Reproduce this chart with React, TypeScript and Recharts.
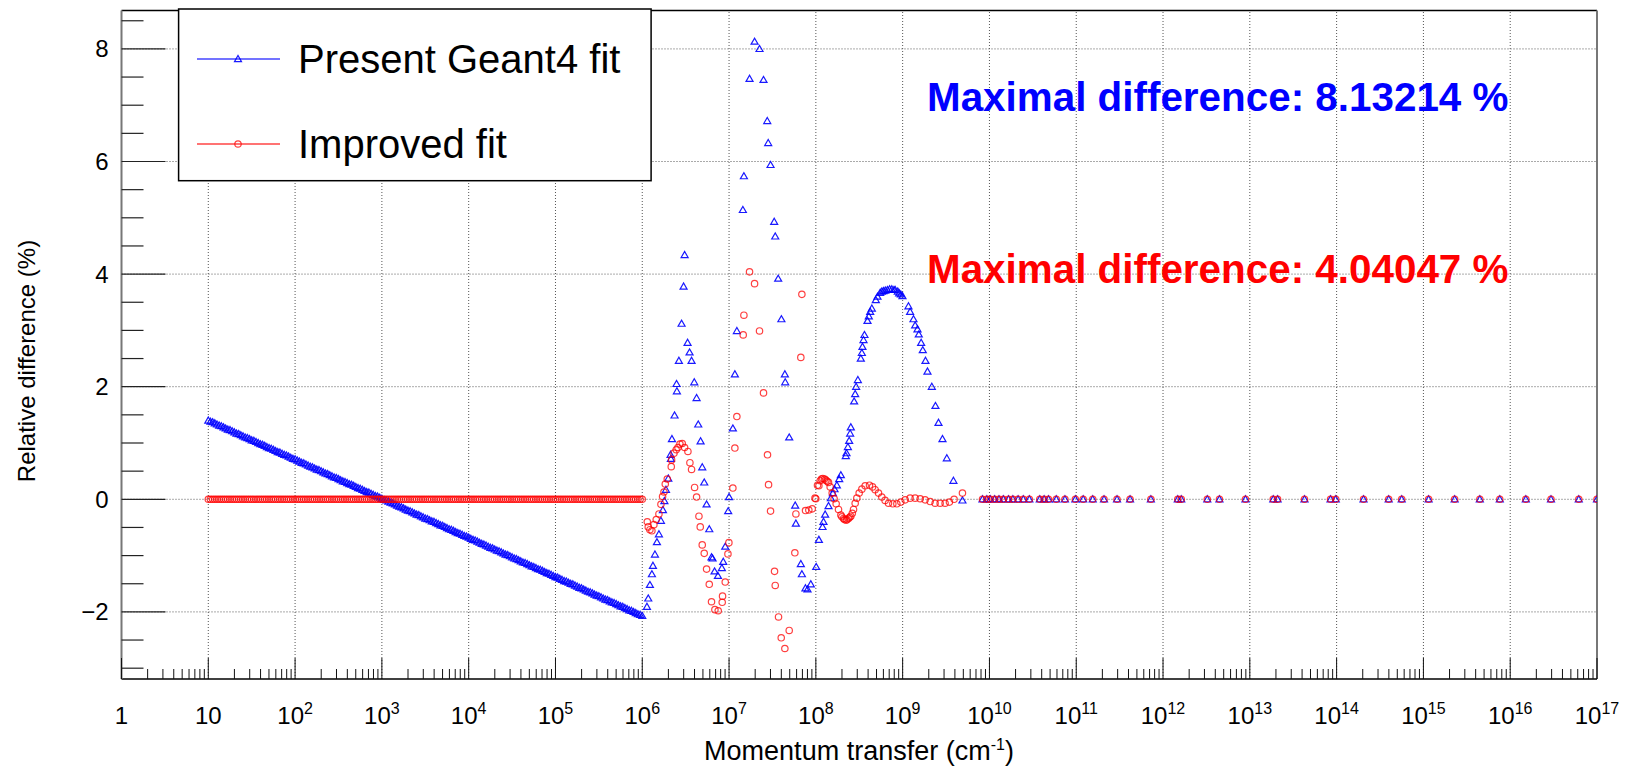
import React from "react";
import { ScatterChart, Scatter, XAxis, YAxis, ReferenceLine } from "recharts";

const W = 1628;
const H = 767;
const Y_MIN = -3.192;
const Y_MAX = 8.684;
const FONT = "'Liberation Sans', Arial, Helvetica, sans-serif";
const BLUE = "#0000ff";
const RED = "#ff0000";

// x values are log10 of the momentum transfer (cm^-1)
const lowQ = [
  1, 1.025, 1.05, 1.075, 1.1, 1.125, 1.15, 1.175,
  1.2, 1.225, 1.25, 1.275, 1.3, 1.325, 1.35, 1.375,
  1.4, 1.425, 1.45, 1.475, 1.5, 1.525, 1.55, 1.575,
  1.6, 1.625, 1.65, 1.675, 1.7, 1.725, 1.75, 1.775,
  1.8, 1.825, 1.85, 1.875, 1.9, 1.925, 1.95, 1.975,
  2, 2.025, 2.05, 2.075, 2.1, 2.125, 2.15, 2.175,
  2.2, 2.225, 2.25, 2.275, 2.3, 2.325, 2.35, 2.375,
  2.4, 2.425, 2.45, 2.475, 2.5, 2.525, 2.55, 2.575,
  2.6, 2.625, 2.65, 2.675, 2.7, 2.725, 2.75, 2.775,
  2.8, 2.825, 2.85, 2.875, 2.9, 2.925, 2.95, 2.975,
  3, 3.025, 3.05, 3.075, 3.1, 3.125, 3.15, 3.175,
  3.2, 3.225, 3.25, 3.275, 3.3, 3.325, 3.35, 3.375,
  3.4, 3.425, 3.45, 3.475, 3.5, 3.525, 3.55, 3.575,
  3.6, 3.625, 3.65, 3.675, 3.7, 3.725, 3.75, 3.775,
  3.8, 3.825, 3.85, 3.875, 3.9, 3.925, 3.95, 3.975,
  4, 4.025, 4.05, 4.075, 4.1, 4.125, 4.15, 4.175,
  4.2, 4.225, 4.25, 4.275, 4.3, 4.325, 4.35, 4.375,
  4.4, 4.425, 4.45, 4.475, 4.5, 4.525, 4.55, 4.575,
  4.6, 4.625, 4.65, 4.675, 4.7, 4.725, 4.75, 4.775,
  4.8, 4.825, 4.85, 4.875, 4.9, 4.925, 4.95, 4.975,
  5, 5.025, 5.05, 5.075, 5.1, 5.125, 5.15, 5.175,
  5.2, 5.225, 5.25, 5.275, 5.3, 5.325, 5.35, 5.375,
  5.4, 5.425, 5.45, 5.475, 5.5, 5.525, 5.55, 5.575,
  5.6, 5.625, 5.65, 5.675, 5.7, 5.725, 5.75, 5.775,
  5.8, 5.825, 5.85, 5.875, 5.9, 5.925, 5.95, 5.975,
  6,
];

const geantLow = [
  1.4, 1.38, 1.37, 1.35, 1.33, 1.31, 1.3, 1.28,
  1.26, 1.24, 1.23, 1.21, 1.19, 1.17, 1.16, 1.14,
  1.12, 1.1, 1.09, 1.07, 1.05, 1.04, 1.02, 1.0,
  0.98, 0.97, 0.95, 0.93, 0.91, 0.9, 0.88, 0.86,
  0.84, 0.83, 0.81, 0.79, 0.78, 0.76, 0.74, 0.72,
  0.71, 0.69, 0.67, 0.65, 0.64, 0.62, 0.6, 0.58,
  0.57, 0.55, 0.53, 0.52, 0.5, 0.48, 0.46, 0.45,
  0.43, 0.41, 0.39, 0.38, 0.36, 0.34, 0.32, 0.31,
  0.29, 0.27, 0.26, 0.24, 0.22, 0.2, 0.19, 0.17,
  0.15, 0.13, 0.12, 0.1, 0.08, 0.06, 0.05, 0.03,
  0.01, -0.01, -0.02, -0.04, -0.06, -0.07, -0.09, -0.11,
  -0.13, -0.14, -0.16, -0.18, -0.2, -0.21, -0.23, -0.25,
  -0.27, -0.28, -0.3, -0.32, -0.34, -0.35, -0.37, -0.39,
  -0.4, -0.42, -0.44, -0.46, -0.47, -0.49, -0.51, -0.53,
  -0.54, -0.56, -0.58, -0.6, -0.61, -0.63, -0.65, -0.66,
  -0.68, -0.7, -0.72, -0.73, -0.75, -0.77, -0.79, -0.8,
  -0.82, -0.84, -0.86, -0.87, -0.89, -0.91, -0.92, -0.94,
  -0.96, -0.98, -0.99, -1.01, -1.03, -1.05, -1.06, -1.08,
  -1.1, -1.12, -1.13, -1.15, -1.17, -1.19, -1.2, -1.22,
  -1.24, -1.25, -1.27, -1.29, -1.31, -1.32, -1.34, -1.36,
  -1.38, -1.39, -1.41, -1.43, -1.45, -1.46, -1.48, -1.5,
  -1.51, -1.53, -1.55, -1.57, -1.58, -1.6, -1.62, -1.64,
  -1.65, -1.67, -1.69, -1.71, -1.72, -1.74, -1.76, -1.78,
  -1.79, -1.81, -1.83, -1.84, -1.86, -1.88, -1.9, -1.91,
  -1.93, -1.95, -1.97, -1.98, -2.0, -2.02, -2.04, -2.05,
  -2.07,
];

const improvedLow = [
  0, 0, 0, 0, 0, 0, 0, 0, 0, 0, 0, 0, 0, 0, 0, 0, 0, 0, 0, 0,
  0, 0, 0, 0, 0, 0, 0, 0, 0, 0, 0, 0, 0, 0, 0, 0, 0, 0, 0, 0,
  0, 0, 0, 0, 0, 0, 0, 0, 0, 0, 0, 0, 0, 0, 0, 0, 0, 0, 0, 0,
  0, 0, 0, 0, 0, 0, 0, 0, 0, 0, 0, 0, 0, 0, 0, 0, 0, 0, 0, 0,
  0, 0, 0, 0, 0, 0, 0, 0, 0, 0, 0, 0, 0, 0, 0, 0, 0, 0, 0, 0,
  0, 0, 0, 0, 0, 0, 0, 0, 0, 0, 0, 0, 0, 0, 0, 0, 0, 0, 0, 0,
  0, 0, 0, 0, 0, 0, 0, 0, 0, 0, 0, 0, 0, 0, 0, 0, 0, 0, 0, 0,
  0, 0, 0, 0, 0, 0, 0, 0, 0, 0, 0, 0, 0, 0, 0, 0, 0, 0, 0, 0,
  0, 0, 0, 0, 0, 0, 0, 0, 0, 0, 0, 0, 0, 0, 0, 0, 0, 0, 0, 0,
  0, 0, 0, 0, 0, 0, 0, 0, 0, 0, 0, 0, 0, 0, 0, 0, 0, 0, 0, 0,
  0,
];

const geantMid: [number, number][] = [
  [6.054, -1.91], [6.069, -1.76], [6.088, -1.52], [6.111, -1.33], [6.123, -1.18],
  [6.146, -0.98], [6.169, -0.76], [6.192, -0.62], [6.215, -0.38], [6.238, -0.19],
  [6.255, -0.03], [6.273, 0.17], [6.3, 0.37], [6.326, 0.79], [6.33, 0.72],
  [6.342, 1.07], [6.372, 1.49], [6.395, 2.05], [6.399, 1.92], [6.422, 2.46],
  [6.453, 3.12], [6.476, 3.78], [6.488, 4.34], [6.522, 2.78], [6.545, 2.61],
  [6.568, 2.46], [6.599, 2.08], [6.626, 1.8], [6.645, 1.33], [6.672, 1.03],
  [6.691, 0.57], [6.714, 0.3], [6.741, -0.09], [6.772, -0.53], [6.798, -1.03],
  [6.81, -1.05], [6.833, -1.28], [6.872, -1.36], [6.917, -1.22], [6.933, -1.11],
  [6.956, -0.84], [6.99, -0.21], [7.0, 0.04], [7.044, 1.26], [7.067, 2.22],
  [7.09, 2.99], [7.159, 5.14], [7.171, 5.74], [7.236, 7.47], [7.294, 8.13],
  [7.351, 8.0], [7.397, 7.45], [7.44, 6.72], [7.451, 6.33], [7.478, 5.94],
  [7.52, 4.93], [7.532, 4.67], [7.566, 3.92], [7.603, 3.2], [7.643, 2.22],
  [7.647, 2.08], [7.693, 1.1], [7.762, -0.11], [7.77, -0.43], [7.827, -1.15],
  [7.839, -1.33], [7.88, -1.58], [7.904, -1.6], [7.942, -1.51], [8.004, -1.2],
  [8.035, -0.72], [8.077, -0.49], [8.088, -0.4], [8.107, -0.27], [8.146, -0.12],
  [8.173, 0.02], [8.196, 0.11], [8.215, 0.18], [8.242, 0.25], [8.269, 0.36],
  [8.288, 0.43], [8.345, 0.77], [8.353, 0.82], [8.369, 0.93], [8.384, 1.04],
  [8.395, 1.17], [8.403, 1.28], [8.441, 1.74], [8.453, 1.87], [8.464, 2.0],
  [8.484, 2.12], [8.518, 2.5], [8.53, 2.6], [8.537, 2.71], [8.549, 2.83],
  [8.56, 2.92], [8.595, 3.17], [8.61, 3.25], [8.626, 3.33], [8.645, 3.39],
  [8.691, 3.54], [8.71, 3.6], [8.741, 3.67], [8.76, 3.69], [8.779, 3.7],
  [8.8, 3.71], [8.825, 3.72], [8.85, 3.73], [8.875, 3.73], [8.9, 3.72],
  [8.914, 3.72], [8.944, 3.69], [8.96, 3.66], [8.979, 3.64], [8.998, 3.61],
  [9.067, 3.43], [9.086, 3.33], [9.125, 3.2], [9.144, 3.09], [9.171, 3.02],
  [9.186, 2.93], [9.213, 2.78], [9.232, 2.65], [9.263, 2.46], [9.286, 2.27],
  [9.336, 2.0], [9.378, 1.66], [9.413, 1.36], [9.459, 1.07], [9.509, 0.73],
  [9.585, 0.33], [9.689, -0.02],
];

const improvedMid: [number, number][] = [
  [6.058, -0.4], [6.069, -0.49], [6.088, -0.54], [6.111, -0.56], [6.134, -0.45],
  [6.161, -0.36], [6.192, -0.26], [6.215, -0.09], [6.234, 0.05], [6.25, 0.13],
  [6.265, 0.27], [6.288, 0.36], [6.334, 0.58], [6.338, 0.7], [6.365, 0.82],
  [6.391, 0.88], [6.411, 0.92], [6.434, 0.98], [6.461, 0.99], [6.488, 0.92],
  [6.526, 0.85], [6.549, 0.65], [6.568, 0.53], [6.603, 0.21], [6.626, 0.04],
  [6.653, -0.3], [6.668, -0.49], [6.691, -0.81], [6.714, -0.96], [6.741, -1.24],
  [6.772, -1.51], [6.798, -1.82], [6.837, -1.96], [6.875, -1.98], [6.921, -1.83],
  [6.925, -1.72], [6.956, -1.47], [6.987, -0.97], [6.998, -0.77], [7.044, 0.2],
  [7.067, 0.91], [7.09, 1.47], [7.163, 2.92], [7.171, 3.27], [7.236, 4.04],
  [7.294, 3.83], [7.351, 2.99], [7.397, 1.89], [7.443, 0.79], [7.455, 0.26],
  [7.478, -0.21], [7.524, -1.28], [7.532, -1.53], [7.57, -2.09], [7.601, -2.46],
  [7.643, -2.65], [7.693, -2.33], [7.758, -0.95], [7.77, -0.26], [7.827, 2.52],
  [7.839, 3.64], [7.881, -0.2], [7.919, -0.19], [7.958, -0.17], [7.99, 0.02],
  [8.0, 0.01], [8.019, 0.25], [8.035, 0.24], [8.05, 0.33], [8.065, 0.36],
  [8.08, 0.37], [8.1, 0.36], [8.115, 0.34], [8.13, 0.32], [8.146, 0.3],
  [8.165, 0.22], [8.188, 0.11], [8.211, 0.01], [8.234, -0.08], [8.261, -0.18],
  [8.288, -0.28], [8.3, -0.31], [8.319, -0.34], [8.33, -0.36], [8.349, -0.37],
  [8.36, -0.36], [8.376, -0.34], [8.39, -0.32], [8.403, -0.3], [8.42, -0.25],
  [8.434, -0.18], [8.453, -0.07], [8.472, 0.02], [8.499, 0.11], [8.53, 0.18],
  [8.568, 0.24], [8.618, 0.25], [8.653, 0.22], [8.683, 0.17], [8.722, 0.11],
  [8.76, 0.04], [8.798, -0.02], [8.837, -0.07], [8.887, -0.08], [8.933, -0.08],
  [8.979, -0.05], [9.029, -0.01], [9.086, 0.02], [9.144, 0.02], [9.202, 0.01],
  [9.259, -0.01], [9.317, -0.04], [9.374, -0.07], [9.432, -0.07], [9.489, -0.07],
  [9.539, -0.05], [9.593, 0.0], [9.689, 0.11],
];

const tailQ = [
  9.92, 9.97, 10.01, 10.06, 10.11, 10.16, 10.22, 10.27, 10.33, 10.39,
  10.46, 10.58, 10.63, 10.68, 10.77, 10.87, 10.99, 11.08, 11.19, 11.32,
  11.47, 11.62, 11.86, 12.17, 12.21, 12.51, 12.65, 12.95, 13.27, 13.32,
  13.63, 13.93, 13.99, 14.31, 14.6, 14.75, 15.06, 15.36, 15.65, 15.88,
  16.18, 16.47, 16.79, 17.0,
];
const tailGeant = [
  0, 0, 0, 0, 0, 0, 0, 0, 0, 0, 0, 0, 0, 0, 0, 0, 0, 0, 0, 0, 0, 0,
  0, 0, 0, 0, 0, 0, 0, 0, 0, 0, 0, 0, 0, 0, 0, 0, 0, 0, 0, 0, 0, 0,
];
const tailImproved = [
  0, 0, 0, 0, 0, 0, 0, 0, 0, 0, 0, 0, 0, 0, 0, 0, 0, 0, 0, 0, 0, 0,
  0, 0, 0, 0, 0, 0, 0, 0, 0, 0, 0, 0, 0, 0, 0, 0, 0, 0, 0, 0, 0, 0,
];

const decades = [0, 1, 2, 3, 4, 5, 6, 7, 8, 9, 10, 11, 12, 13, 14, 15, 16, 17];
const yTicks = [
  -3, -2.5, -2, -1.5, -1, -0.5, 0, 0.5, 1, 1.5, 2, 2.5, 3, 3.5, 4, 4.5, 5, 5.5,
  6, 6.5, 7, 7.5, 8, 8.5,
];
const yGrid = [-2, 0, 2, 4, 6, 8];
const seriesNames = ["Present Geant4 fit", "Improved fit"];
const maxNotes = ["Maximal difference: 8.13214 %", "Maximal difference: 4.04047 %"];

const pairs = (xs: number[], ys: number[]) => xs.map((x, i) => ({ x, y: ys[i] }));
const geantData = [
  ...pairs(lowQ, geantLow),
  ...geantMid.map(([x, y]) => ({ x, y })),
  ...pairs(tailQ, tailGeant),
];
const improvedData = [
  ...pairs(lowQ, improvedLow),
  ...improvedMid.map(([x, y]) => ({ x, y })),
  ...pairs(tailQ, tailImproved),
];

// log axis: decade ticks plus 2..9 subdivisions
const xTicks = decades.flatMap((d) =>
  d < 17 ? [d, ...[2, 3, 4, 5, 6, 7, 8, 9].map((k) => d + Math.log10(k))] : [d]
);

const Triangle = (p: any) => {
  const { cx, cy } = p;
  if (cx == null || cy == null) return <g />;
  return (
    <path
      d={`M${cx - 3.5},${cy + 2.6}L${cx + 3.5},${cy + 2.6}L${cx},${cy - 3.5}Z`}
      fill="none"
      stroke={BLUE}
      strokeWidth={1.2}
      strokeOpacity={0.9}
    />
  );
};

const Circle = (p: any) => {
  const { cx, cy } = p;
  if (cx == null || cy == null) return <g />;
  return <circle cx={cx} cy={cy} r={3.2} fill="none" stroke={RED} strokeWidth={1.2} strokeOpacity={0.75} />;
};

const XTick = (p: any) => {
  const { x, y, payload } = p;
  const v = payload.value as number;
  const n = Math.round(v);
  const major = Math.abs(v - n) < 1e-6;
  return (
    <g>
      <line x1={x} x2={x} y1={y} y2={y - (major ? 21 : 10)} stroke="#111" strokeWidth={1} />
      {major && (
        <text x={x} y={y + 45} textAnchor="middle" fontSize={24} fontFamily={FONT} fill="#000">
          {n === 0 ? "1" : n === 1 ? "10" : (
            <>
              <tspan>10</tspan>
              <tspan dy={-10} fontSize={16}>{n}</tspan>
            </>
          )}
        </text>
      )}
    </g>
  );
};

const YTick = (p: any) => {
  const { x, y, payload } = p;
  const v = payload.value as number;
  const major = Math.abs(v / 2 - Math.round(v / 2)) < 1e-6;
  return (
    <g>
      <line x1={x} x2={x + (major ? 44 : 22)} y1={y} y2={y} stroke="#222" strokeWidth={1.2} />
      {major && (
        <text x={x - 13} y={y + 8.5} textAnchor="end" fontSize={24} fontFamily={FONT} fill="#000">
          {v < 0 ? `\u2212${-v}` : `${v}`}
        </text>
      )}
    </g>
  );
};

export default function App() {
  return (
    <div style={{ position: "absolute", left: 0, top: 0, width: W, height: H, overflow: "hidden", background: "#fff" }}>
      <ScatterChart width={W} height={H} margin={{ top: 10.4, right: 31, bottom: 58, left: 61.5 }}>
        <XAxis
          type="number"
          dataKey="x"
          domain={[0, 17]}
          allowDataOverflow
          ticks={xTicks}
          interval={0}
          height={30}
          tickSize={0}
          tickMargin={0}
          tickLine={false}
          tick={(p: any) => <XTick {...p} />}
          axisLine={{ stroke: "#000", strokeWidth: 1.5 }}
        />
        <YAxis
          type="number"
          dataKey="y"
          domain={[Y_MIN, Y_MAX]}
          allowDataOverflow
          ticks={yTicks}
          interval={0}
          width={60}
          tickSize={0}
          tickMargin={0}
          tickLine={false}
          tick={(p: any) => <YTick {...p} />}
          axisLine={{ stroke: "#777", strokeWidth: 2 }}
        />
        {decades.slice(1, 17).map((d) => (
          <ReferenceLine key={`gx${d}`} x={d} stroke="#555" strokeWidth={1} strokeDasharray="1 2" />
        ))}
        {yGrid.map((v) => (
          <ReferenceLine key={`gy${v}`} y={v} stroke="#555" strokeWidth={1} strokeDasharray="1 2" />
        ))}
        <ReferenceLine y={Y_MAX} stroke="#000" strokeWidth={1.5} />
        <ReferenceLine x={17} stroke="#777" strokeWidth={2} />
        <Scatter name={seriesNames[0]} data={geantData} shape={Triangle} isAnimationActive={false} />
        <Scatter name={seriesNames[1]} data={improvedData} shape={Circle} isAnimationActive={false} />
      </ScatterChart>
      <svg
        width={W}
        height={H}
        style={{ position: "absolute", left: 0, top: 0, pointerEvents: "none" }}
        fontFamily={FONT}
      >
        <rect x={178.6} y={9} width={472.5} height={171.7} fill="#fff" stroke="#000" strokeWidth={1.5} />
        <line x1={197} x2={280} y1={59} y2={59} stroke="rgba(0,0,255,0.55)" strokeWidth={2} />
        <Triangle cx={238} cy={59} />
        <text x={298} y={73} fontSize={40} fill="#000">{seriesNames[0]}</text>
        <line x1={197} x2={280} y1={144} y2={144} stroke="rgba(255,0,0,0.55)" strokeWidth={2} />
        <Circle cx={238} cy={144} />
        <text x={298} y={158} fontSize={40} fill="#000">{seriesNames[1]}</text>

        <text x={927} y={111} fontSize={40.4} fontWeight="bold" fill={BLUE}>{maxNotes[0]}</text>
        <text x={927} y={283} fontSize={40.4} fontWeight="bold" fill={RED}>{maxNotes[1]}</text>

        <text x={859} y={760} textAnchor="middle" fontSize={27} fill="#000">
          Momentum transfer (cm<tspan dy={-10} fontSize={16}>-1</tspan><tspan dy={10}>)</tspan>
        </text>
        <text transform="translate(35,361) rotate(-90)" textAnchor="middle" fontSize={24} fill="#000">
          Relative difference (%)
        </text>
      </svg>
    </div>
  );
}
